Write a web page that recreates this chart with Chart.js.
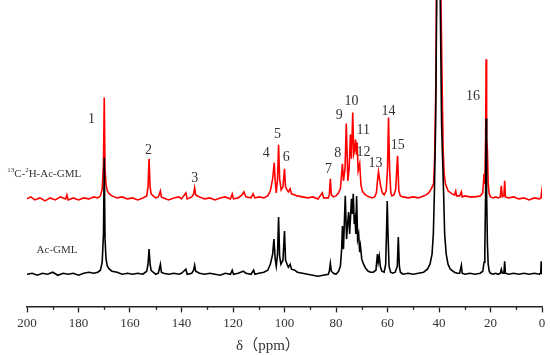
<!DOCTYPE html>
<html><head><meta charset="utf-8">
<script src="https://cdn.jsdelivr.net/npm/chart.js@4/dist/chart.umd.min.js"></script>
<style>html,body{margin:0;padding:0;background:#fff}</style>
</head><body>
<canvas id="c" width="550" height="355"></canvas>
<script>
// ---- data (ppm, intensity above own baseline) ----
const seriesNames = ['Ac-GML', '13C-2H-Ac-GML'];
const xTickValues = [200,180,160,140,120,100,80,60,40,20,0];
const redTrace = [[200,0],[198.5,2],[197,-1],[195,1],[193,-2],[191,1],[189,-1],[187,2],[185,0],[184.5,4],[184,-1],[182,1],[180,-1],[178,1],[176,0],[174,2],[172.5,1],[171.5,3],[170.8,10],[170.3,35],[170.0,101],[169.7,30],[169.3,14],[168.8,8],[168,5],[167,3],[165,1],[163,2],[161,0],[159,1],[157,-1],[155,1],[153.5,3],[153,12],[152.6,40],[152.2,12],[151.8,5],[151,3],[150,1],[149,2],[148.2,8],[147.8,2],[147,1],[145,-1],[143,1],[141,2],[140,0],[138.3,6],[137.8,0],[136,2],[135.3,5],[134.9,11],[134.5,4],[133,2],[131,0],[129,1],[127,-1],[125,1],[123,2],[121,0],[120.3,5],[119.8,0],[118,1],[116.5,4],[115.8,7],[115,2],[113,1],[112.2,5],[111.5,1],[110,2],[108,1],[106.5,3],[105.5,8],[104.6,20],[104.0,36],[103.6,18],[103.2,6],[102.7,20],[102.3,54],[101.9,20],[101.3,9],[100.6,12],[100.0,30],[99.6,12],[99,9],[98.5,7],[97.8,10],[97.3,5],[96,4],[95,3],[93,2],[91,1],[89,2],[87,0],[85.3,6],[84.8,1],[83,1],[82.6,4],[82.2,20],[81.8,4],[81,2],[80,3],[79,6],[78.3,10],[77.5,35],[77.1,18],[76.5,30],[76.0,75],[75.4,18],[74.9,30],[74.4,64],[74.0,40],[73.5,86],[73.1,45],[72.7,50],[72.4,59],[72.1,44],[71.8,56],[71.4,28],[70.8,35],[70.3,14],[69.8,8],[69,5],[68,3],[67,2],[66,1],[65,2],[64.3,6],[63.9,18],[63.5,27],[63.1,20],[62.6,12],[62,6],[61.3,4],[60.5,8],[60,30],[59.6,81],[59.2,30],[58.7,6],[58.3,3],[57.5,4],[56.8,10],[56.1,43],[55.6,8],[55,3],[54,2],[52,1],[50,2],[48,1],[46,3],[45,4],[44,6],[43,10],[42.1,15],[41.7,40],[41.2,118],[40.9,250],[40.2,800],[39.5,250],[38.8,118],[38.4,50],[38,25],[37.5,15],[36.5,8],[35,5],[34,4],[33.5,8],[33.2,3],[32,3],[31.3,7],[31,2],[30,3],[28,2],[26,2],[24,3],[23,6],[22.5,25],[22.2,15],[21.9,60],[21.7,139],[21.5,60],[21.2,48],[20.9,15],[20.5,5],[20,2],[19,1],[18,2],[17,1],[16.2,2],[15.8,13],[15.4,2],[14.8,3],[14.5,18],[14.2,2],[13,1],[11,2],[9,0],[7,1],[5,-1],[3,1],[1,0],[0.4,1],[0.2,6],[0,1]];
const blackTrace = [[200,0],[198,1],[196,-1],[194,1],[192,0],[190,2],[188,-1],[186,1],[184,0],[182,1],[180,-1],[178,1],[176,2],[174,1],[172.5,2],[171.5,4],[170.8,12],[170.3,40],[170.0,116],[169.7,35],[169.3,15],[168.8,8],[168,5],[167,3],[165,2],[163,0],[161,1],[159,0],[157,1],[155,0],[153.5,3],[153,10],[152.6,25],[152.2,10],[151.8,4],[151,2],[150,0],[149,1],[148.2,10],[147.8,2],[147,1],[145,0],[143,1],[141,0],[140,1],[138.3,5],[137.8,0],[136,1],[135.3,4],[134.9,9],[134.5,3],[133,1],[131,0],[129,1],[127,0],[125,-1],[123,1],[121,0],[120.3,4],[119.8,0],[118,1],[116,3],[115,1],[113,0],[112,4],[111.5,0],[110,1],[108,2],[106.5,4],[105.5,10],[104.6,20],[104.1,35],[103.6,15],[103.2,8],[102.7,20],[102.3,57],[101.9,18],[101.4,10],[100.6,14],[100.0,43],[99.6,14],[99,10],[98.5,7],[97.8,10],[97.3,5],[96,4],[95,2],[93,1],[91,0],[89,-1],[87,-2],[85,-1],[83,0],[82.6,3],[82.2,11],[81.8,3],[81,1],[80,0],[79,3],[78.3,8],[77.8,25],[77.5,48],[77.1,25],[76.4,78],[75.9,35],[75.5,50],[75.1,62],[74.7,40],[74.0,75],[73.6,60],[73.3,80],[72.9,50],[72.6,55],[72.3,40],[72.0,78],[71.6,35],[71.2,40],[70.8,22],[70.5,28],[70,15],[69.3,10],[68.5,6],[67.5,3],[66.5,2],[65.5,2],[64.5,4],[64.2,12],[63.9,20],[63.6,12],[63.2,18],[62.8,8],[62.2,3],[61.3,2],[60.7,10],[60.4,40],[60.1,73],[59.8,40],[59.4,8],[58.8,2],[58,1],[57,2],[56.2,8],[55.8,37],[55.4,8],[55,2],[54,0],[52,1],[50,0],[48,1],[46,2],[44.5,5],[43.5,10],[42.7,20],[42.2,40],[41.8,80],[41.3,150],[40.9,270],[40.25,900],[39.5,270],[39.0,150],[38.2,80],[37.8,40],[37.2,20],[36.5,10],[35.6,5],[34,2],[33,1],[32,1],[31.3,9],[31,1],[30,0],[28,1],[26,0],[24,1],[23,3],[22.5,12],[22.2,25],[21.9,80],[21.7,155],[21.5,80],[21.2,30],[20.9,10],[20.5,3],[20,1],[19,0],[18,1],[17,0],[16.2,1],[15.8,5],[15.4,1],[14.8,1],[14.5,13],[14.2,1],[13,0],[11,1],[9,0],[7,1],[5,0],[3,1],[1,0],[0.5,1],[0.3,13],[0.1,1],[0,0]];
const peakLabels = ['1','2','3','4','5','6','7','8','9','10','11','12','13','14','15','16'];
const peakLabelPpm = [175.0,152.8,134.9,107.1,102.7,99.3,82.9,79.3,78.7,74.0,69.4,69.3,64.7,59.6,56.0,26.8];
const peakLabelVal = [154,123,95,120,139,116,104,120,158,172,143,121,110,162,128,177];
const redOffset = 75;

const toPts = (arr, off) => arr.map(p => ({x: p[0], y: p[1] + off}));

const annot = {
  id: 'annot',
  afterDraw(chart) {
    const {ctx, chartArea} = chart;
    const xs = chart.scales.x, ys = chart.scales.y;
    ctx.save();
    // minor ticks
    ctx.strokeStyle = '#222'; ctx.lineWidth = 1.3;
    for (let v = 10; v < 200; v += 20) {
      const px = Math.round(xs.getPixelForValue(v)) + 0.5;
      ctx.beginPath(); ctx.moveTo(px, chartArea.bottom); ctx.lineTo(px, chartArea.bottom + 3.5); ctx.stroke();
    }
    // peak labels
    ctx.fillStyle = '#333';
    ctx.font = '14px "Liberation Serif", serif';
    ctx.textAlign = 'center'; ctx.textBaseline = 'middle';
    peakLabels.forEach((t, i) => ctx.fillText(t, xs.getPixelForValue(peakLabelPpm[i]), ys.getPixelForValue(peakLabelVal[i])));
    // series names
    ctx.textAlign = 'left'; ctx.textBaseline = 'alphabetic';
    let x = xs.getPixelForValue(207.7);
    let y = ys.getPixelForValue(redOffset + 26) + 4;
    const seg = [['13', 7, -5], ['C-', 11, 0], ['2', 7, -5], ['H-Ac-GML', 11, 0]];
    seg.forEach(s => {
      ctx.font = s[1] + 'px "Liberation Serif", serif';
      ctx.fillText(s[0], x, y + s[2]);
      x += ctx.measureText(s[0]).width;
    });
    ctx.font = '11px "Liberation Serif", serif';
    ctx.fillText(seriesNames[0], xs.getPixelForValue(196.3), ys.getPixelForValue(25) + 4);
    // axis title
    ctx.font = '15px "Liberation Serif", "Noto Sans CJK SC", serif';
    ctx.textAlign = 'left'; ctx.textBaseline = 'middle';
    ctx.fillText('δ（ppm）', xs.getPixelForValue(118.8), chartArea.bottom + 40);
    ctx.restore();
  }
};

new Chart(document.getElementById('c'), {
  type: 'line',
  data: {
    datasets: [
      {label: seriesNames[0], data: toPts(blackTrace, 0), borderColor: '#000', borderWidth: 1.6, pointRadius: 0, tension: 0, order: 0},
      {label: seriesNames[1], data: toPts(redTrace, redOffset), borderColor: '#ff0000', borderWidth: 1.6, pointRadius: 0, tension: 0, order: 1}
    ]
  },
  options: {
    responsive: false, animation: false, devicePixelRatio: 1,
    layout: {padding: {left: 27, right: 8, top: 0, bottom: 21}},
    plugins: {legend: {display: false}, tooltip: {enabled: false}},
    scales: {
      x: {
        type: 'linear', reverse: true, min: 0, max: 200, position: 'bottom',
        afterBuildTicks: s => { s.ticks = xTickValues.map(v => ({value: v})); },
        ticks: {color: '#333', font: {family: '"Liberation Serif", serif', size: 13}, padding: 3, maxRotation: 0, autoSkip: false},
        grid: {drawOnChartArea: false, drawTicks: true, tickLength: 6, tickWidth: 1.3, tickColor: '#222'},
        border: {display: true, color: '#222', width: 1.5}
      },
      y: {display: false, min: -32, max: 273}
    }
  },
  plugins: [annot]
});
</script>
</body></html>
